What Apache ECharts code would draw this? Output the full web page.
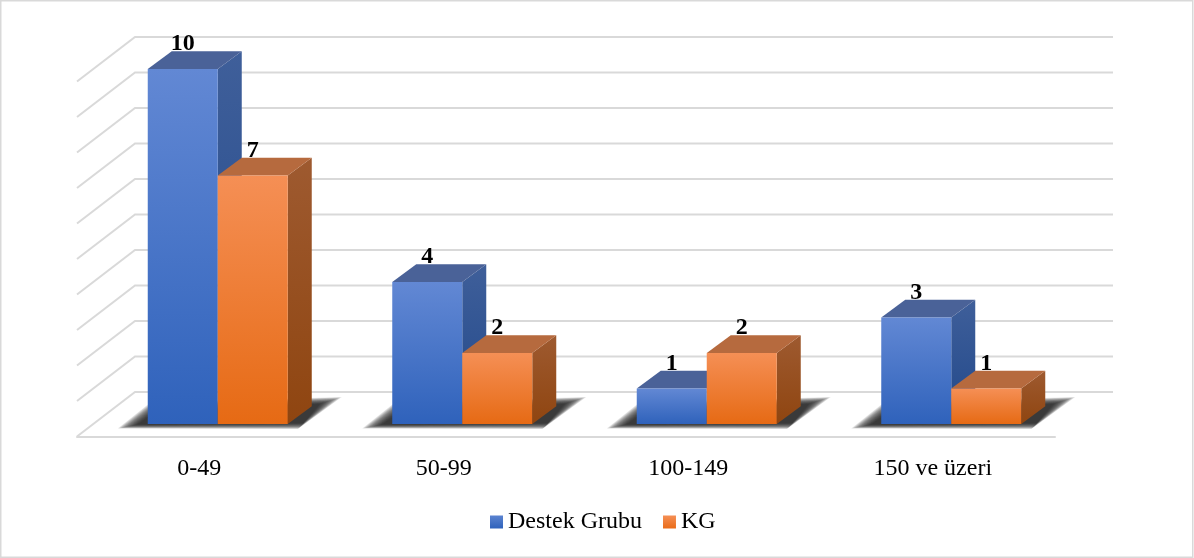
<!DOCTYPE html>
<html><head><meta charset="utf-8">
<style>html,body{margin:0;padding:0;background:#fff}#c{width:1194px;height:558px}</style>
<script src="https://cdn.jsdelivr.net/npm/echarts@6/dist/echarts.min.js"></script>
</head><body><div id="c"></div>
<script>
const categories = ['0-49', '50-99', '100-149', '150 ve üzeri'];
const destekGrubu = [10, 4, 1, 3];
const kg = [7, 2, 2, 1];
const gridTicks = [0, 1, 2, 3, 4, 5, 6, 7, 8, 9, 10];
const seriesNames = ['Destek Grubu', 'KG'];

const FONT = '"Liberation Serif","Times New Roman",serif';
const WALL = { dx: 58, dy: -44.5 };
const BAR = { w: 70, dx: 24, dy: -17.7, lift: 12.5, shift: 18.5 };
const grad = (a, b) => ({ type: 'linear', x: 0, y: 0, x2: 0, y2: 1, colorStops: [{ offset: 0, color: a }, { offset: 1, color: b }] });
const STYLES = [
  { front: grad('#6288d4', '#2f62bb'), side: grad('#3f5f9a', '#21488a'), top: '#4a6298' },
  { front: grad('#f58f55', '#e66a14'), side: grad('#9e5a30', '#8f4510'), top: '#b66a3e' }
];
const wallItem = (p, api) => {
  const v = api.value(1), y = api.coord([0, v])[1], r = p.coordSys;
  const left = r.x, right = r.x + r.width;
  const pts = [[left, y], [left + WALL.dx, y + WALL.dy], [right + WALL.dx, y + WALL.dy]];
  return { type: 'polyline', shape: { points: pts }, style: { fill: 'none', stroke: '#d9d9d9', lineWidth: 2 }, silent: true };
};
const poly = (points, fill) => ({ type: 'polygon', shape: { points }, style: { fill } });
const barItem = idx => (p, api) => {
  const c = api.coord([api.value(0), api.value(1)]), b = api.coord([api.value(0), 0]);
  const x0 = c[0] + BAR.shift + (idx - 1) * BAR.w, x1 = x0 + BAR.w;
  const yT = c[1] - BAR.lift, yB = b[1] - BAR.lift;
  const s = STYLES[idx];
  return { type: 'group', children: [
    poly([[x1, yT], [x1 + BAR.dx, yT + BAR.dy], [x1 + BAR.dx, yB + BAR.dy], [x1, yB]], s.side),
    poly([[x0, yT], [x0 + BAR.dx, yT + BAR.dy], [x1 + BAR.dx, yT + BAR.dy], [x1, yT]], s.top),
    poly([[x0, yT], [x1, yT], [x1, yB], [x0, yB]], s.front)
  ] };
};
// soft floor shadow: stacked translucent polygons morphing from an outer to an inner outline
const SHADOW_LAYERS = 18;
const shadowItem = (p, api) => {
  const b = api.coord([api.value(0), 0]);
  const x0 = b[0] + BAR.shift - BAR.w, x1 = x0 + 2 * BAR.w, y = b[1] - BAR.lift;
  const outer = [[x0 - 30, y + 4.5], [x0 + 2, y - 21], [x1 + 54, y - 27], [x1 + 10, y + 5]];
  const inner = [[x0 - 10, y + 0.5], [x0 + 6, y - 11], [x1 + 32, y - 20], [x1 + 16, y - 1]];
  const children = [];
  for (let k = 0; k < SHADOW_LAYERS; k++) {
    const t = k / (SHADOW_LAYERS - 1);
    children.push(poly(outer.map((o, i) => [o[0] + (inner[i][0] - o[0]) * t, o[1] + (inner[i][1] - o[1]) * t]), 'rgba(30,30,30,0.1)'));
  }
  return { type: 'group', silent: true, children };
};
const labelItem = idx => (p, api) => {
  const c = api.coord([api.value(0), api.value(1)]);
  const x = c[0] + BAR.shift + (idx - 0.5) * BAR.w;
  return { type: 'text', style: { x, y: c[1] - BAR.lift - 25, text: String(api.value(1)), align: 'center', verticalAlign: 'middle',
    font: 'bold 24px ' + FONT, fill: '#000' }, silent: true };
};
const rows = arr => arr.map((v, i) => [i, v]);
const chart = echarts.init(document.getElementById('c'), null, { renderer: 'canvas' });
chart.setOption({
  animation: false,
  backgroundColor: '#fff',
  graphic: [{ type: 'rect', z: 0, shape: { x: 0.75, y: 0.75, width: 1192, height: 556.5 }, style: { fill: 'none', stroke: '#d9d9d9', lineWidth: 1.5 }, silent: true }],
  grid: { left: 77, right: 139, top: 81.5, bottom: 121.5 },
  legend: {
    left: 490, top: 510, padding: 0, itemWidth: 13, itemHeight: 13, itemGap: 21, selectedMode: false,
    textStyle: { fontFamily: FONT, fontSize: 24, color: '#000' },
    data: [
      { name: seriesNames[0], icon: 'rect', itemStyle: { color: grad('#5b83d0', '#2f62bb') } },
      { name: seriesNames[1], icon: 'rect', itemStyle: { color: grad('#f58f55', '#ea6c18') } }
    ]
  },
  xAxis: { type: 'category', data: categories, axisTick: { show: false },
    axisLine: { lineStyle: { color: '#d9d9d9', width: 2 } },
    axisLabel: { margin: 20, fontFamily: FONT, fontSize: 24, color: '#000' } },
  yAxis: { type: 'value', min: 0, max: 10, interval: 1, axisLabel: { show: false }, axisLine: { show: false }, axisTick: { show: false }, splitLine: { show: false } },
  series: [
    { type: 'custom', name: 'wall', z: 1, silent: true, clip: false, renderItem: wallItem, encode: { x: 0, y: 1 }, data: gridTicks.map(v => [0, v]) },
    { type: 'custom', name: 'shadow', z: 2, silent: true, clip: false, renderItem: shadowItem, encode: { x: 0, y: 1 }, data: categories.map((c, i) => [i, 0]) },
    { type: 'custom', name: seriesNames[0], z: 3, clip: false, renderItem: barItem(0), encode: { x: 0, y: 1 }, itemStyle: { color: '#3f6ec4' }, data: rows(destekGrubu) },
    { type: 'custom', name: seriesNames[1], z: 4, clip: false, renderItem: barItem(1), encode: { x: 0, y: 1 }, itemStyle: { color: '#ee7424' }, data: rows(kg) },
    { type: 'custom', name: 'lblA', z: 5, silent: true, clip: false, renderItem: labelItem(0), encode: { x: 0, y: 1 }, data: rows(destekGrubu) },
    { type: 'custom', name: 'lblB', z: 5, silent: true, clip: false, renderItem: labelItem(1), encode: { x: 0, y: 1 }, data: rows(kg) }
  ]
});
</script></body></html>
